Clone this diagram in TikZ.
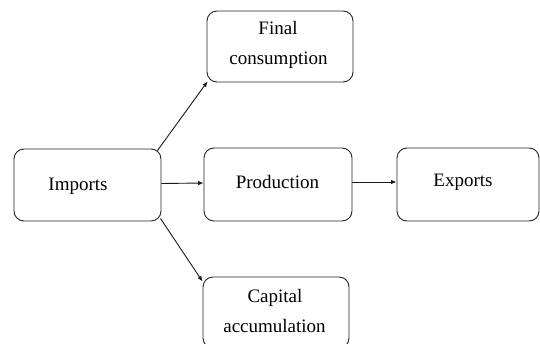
\documentclass[tikz,border=0pt]{standalone}
\usepackage{fontspec}
\setmainfont{Liberation Serif}
\usetikzlibrary{arrows.meta}
\begin{document}
\begin{tikzpicture}[x=1pt,y=1pt,
  box/.style={draw=black!85, line width=0.9pt, rounded corners=10pt, minimum width=#1, minimum height=72pt, inner sep=0pt},
  box/.default=147pt,
  txt/.style={font=\fontsize{19}{30}\selectfont, anchor=base, inner sep=0pt},
  arr/.style={draw=black!90, line width=0.9pt, -{Latex[length=5.5pt,width=4.5pt]}}]
\useasboundingbox (0,0) rectangle (540,343);
\clip (0,0) rectangle (540,343);
\fill[white] (0,0) rectangle (540,343);
\node[box=146pt, minimum height=71pt] (fin) at (280,296.5) {};
\node[box=147pt] (imp) at (87.5,158) {};
\node[box=148pt, minimum height=73pt] (prod) at (278,158.5) {};
\node[box=142pt, minimum height=73pt] (exp) at (468,158.5) {};
\node[box=146pt, minimum height=71pt] (cap) at (276,30.5) {};
\node[txt] (tfin1) at (278,308) {Final};
\node[txt] (tfin2) at (278.5,278) {consumption};
\node[txt] (timp) at (78,152.5) {Imports};
\node[txt] (tprod) at (277.5,154.7) {Production};
\node[txt] (texp) at (463,157) {Exports};
\node[txt] (tcap1) at (275,41) {Capital};
\node[txt] (tcap2) at (274.5,11) {accumulation};
\draw[arr] ([xshift=-4pt,yshift=-2pt]imp.north east) -- ([xshift=1pt,yshift=1pt]fin.south west);
\draw[arr] ([yshift=1.5pt]imp.east) -- ([yshift=1.5pt]prod.west);
\draw[arr] ([yshift=2.5pt]prod.east) -- ([yshift=2.5pt]exp.west);
\draw[arr] ([xshift=-1pt,yshift=3pt]imp.south east) -- ([yshift=-5pt]cap.north west);
\end{tikzpicture}
\end{document}
